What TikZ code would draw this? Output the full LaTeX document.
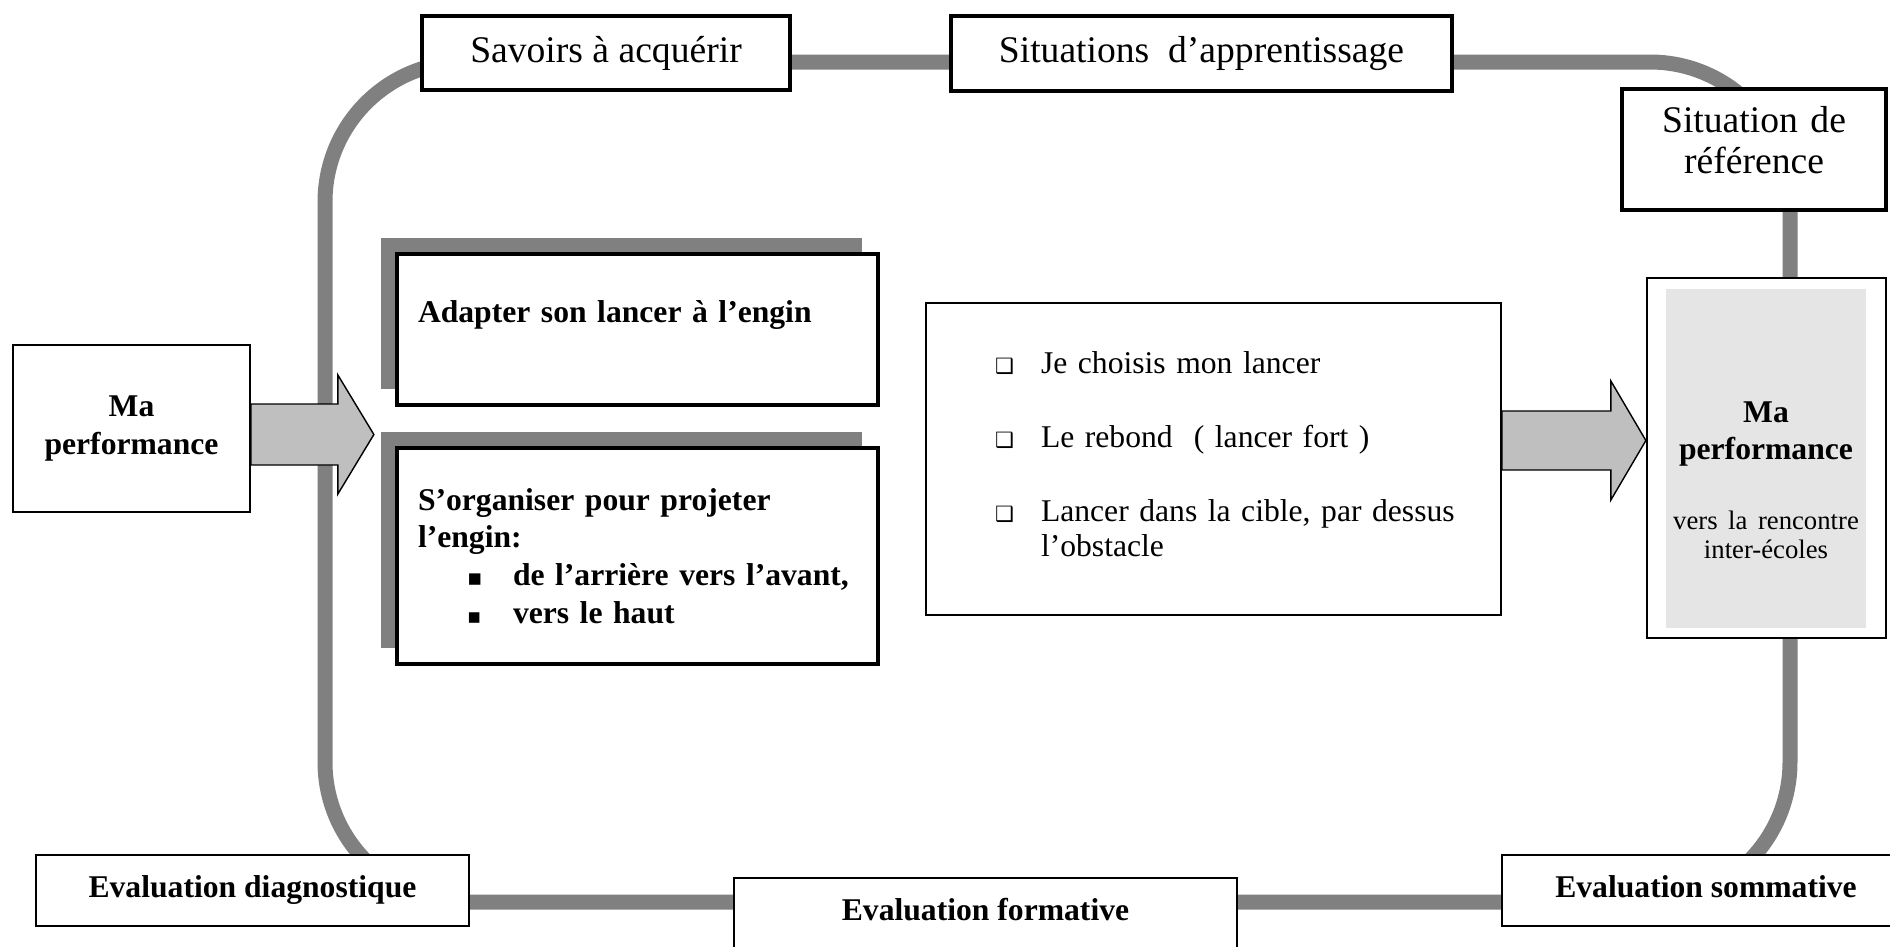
\documentclass[tikz,border=0pt]{standalone}
\usepackage{fontspec}
\setmainfont{Liberation Serif}
\newfontfamily\symfont{DejaVu Sans}
\usetikzlibrary{shadows}

\begin{document}
\begin{tikzpicture}[
    topbox/.style={draw, line width=1.3pt, fill=white, inner sep=0pt, align=center,
      font=\fontsize{10.7}{11.7}\selectfont},
    thinbox/.style={draw, line width=0.5pt, fill=white, inner sep=0pt, align=center,
      font=\fontsize{9}{10.7}\selectfont\bfseries},
    shadowbox/.style={draw, line width=1pt, fill=white, inner xsep=0.21cm, inner ysep=0pt,
      minimum width=4.81cm, text width=4.39cm, align=left,
      font=\fontsize{9}{10.7}\selectfont\bfseries,
      drop shadow={shadow xshift=-0.16cm, shadow yshift=0.16cm, fill=black!50, opacity=1}},
    cycleline/.style={draw=black!50, line width=0.15cm, rounded corners=1.4cm},
    blockarrow/.style={draw, line width=0.4pt, fill=black!25}
  ]
  \useasboundingbox (0,0) rectangle (18.9,-9.46);
  \coordinate (nw) at (3.25,-0.62);
  \coordinate (se) at (17.90,-9.02);
  \draw[cycleline] (nw) rectangle (se);

  \node[topbox, minimum width=3.68cm, minimum height=0.74cm] (savoirs) at (6.06,-0.53) {Savoirs à acquérir};
  \node[topbox, minimum width=5.01cm, minimum height=0.75cm] (situations) at (12.015,-0.535) {Situations\ \ d’apprentissage};
  \node[topbox, minimum width=2.64cm, minimum height=1.21cm, text width=2.64cm, text depth=0.6cm] (ref) at (17.54,-1.495) {Situation de\\référence};

  \node[thinbox, minimum width=2.37cm, minimum height=1.67cm] (perfA) at (1.315,-4.285) {Ma\\performance};
  \node[shadowbox, minimum height=1.51cm, text depth=0.36cm] (adapter) at (6.375,-3.295) {Adapter son lancer à l’engin};
  \node[shadowbox, minimum height=2.16cm] (organiser) at (6.375,-5.56) {S’organiser pour projeter\\
    l’engin:\\
    \hspace*{0.49cm}\makebox[0.46cm][l]{\symfont\fontsize{6.5}{7}\selectfont ▪}de l’arrière vers l’avant,\\
    \hspace*{0.49cm}\makebox[0.46cm][l]{\symfont\fontsize{6}{7}\selectfont ▪}vers le haut};

  \node[thinbox, font=\fontsize{9}{10.2}\selectfont, minimum width=5.75cm, minimum height=3.12cm,
    inner xsep=0.74cm, text width=4.27cm, align=left, text depth=1.93cm] (listbox) at (12.135,-4.59) {%
    \hspace*{-0.05cm}\makebox[0.46cm][l]{\symfont\fontsize{6}{7}\selectfont ❑}Je choisis mon lancer\\[10.8pt]
    \hspace*{-0.05cm}\makebox[0.46cm][l]{\symfont\fontsize{6}{7}\selectfont ❑}Le rebond\ \ ( lancer fort )\\[10.8pt]
    \hspace*{-0.05cm}\makebox[0.46cm][l]{\symfont\fontsize{6}{7}\selectfont ❑}\mbox{Lancer dans la cible, par dessus}\\
    \hspace*{0.41cm}l’obstacle};

  \node[thinbox, minimum width=2.39cm, minimum height=3.6cm] (perfBbox) at (17.665,-4.58) {};
  \node[fill=black!10, minimum width=2.0cm, minimum height=3.39cm] (perfBin) at (17.66,-4.585) {};
  \node[align=center, text width=2cm, inner sep=0pt, font=\fontsize{9}{10.5}\selectfont] (perfB) at (17.66,-4.80)
    {\textbf{Ma}\\\textbf{performance}\par\vspace{11.9pt}\fontsize{7.6}{8}\selectfont vers la rencontre\\[-2.2pt]inter-écoles};

  \node[thinbox, minimum width=4.33cm, minimum height=0.71cm, text depth=0.07cm] (diag) at (2.525,-8.905) {Evaluation diagnostique};
  \node[thinbox, minimum width=5.03cm, minimum height=0.70cm, text depth=0.08cm] (form) at (9.855,-9.13) {Evaluation formative};
  \node[thinbox, minimum width=4.08cm, minimum height=0.71cm, text depth=0.07cm] (somm) at (17.06,-8.905) {Evaluation sommative};

  \draw[blockarrow] ([yshift=0.245cm]perfA.east) -- ++(0.87,0) -- ++(0,0.29) -- ++(0.36,-0.595)
    -- ++(-0.36,-0.595) -- ++(0,0.29) -- ++(-0.87,0) -- cycle;
  \draw[blockarrow] ([yshift=0.48cm]listbox.east) -- ++(1.09,0) -- ++(0,0.30) -- ++(0.35,-0.595)
    -- ++(-0.35,-0.595) -- ++(0,0.30) -- ++(-1.09,0) -- cycle;
\end{tikzpicture}
\end{document}
